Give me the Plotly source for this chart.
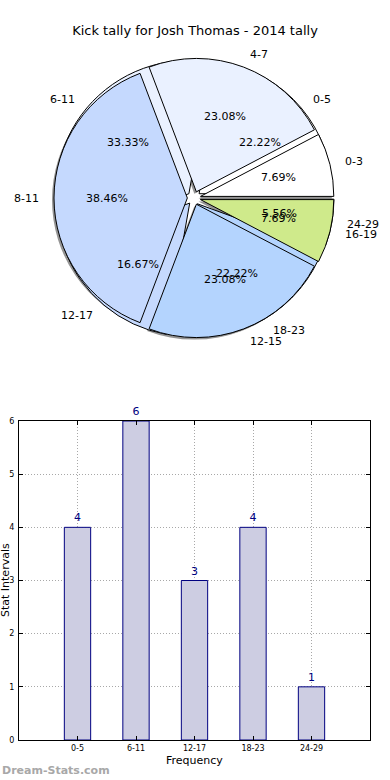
import math
import plotly.graph_objects as go

# ---------------- data ----------------
title_text = "Kick tally for Josh Thomas - 2014 tally"

pie_top_labels = ["0-3", "4-7", "8-11", "12-15", "16-19"]
pie_top_values = [1, 3, 5, 3, 1]

pie_under_labels = ["0-5", "6-11", "12-17", "18-23", "24-29"]
pie_under_values = [4, 6, 3, 4, 1]

slice_colors = ["#ffffff", "#eaf1ff", "#c5d9fe", "#b4d4fe", "#cfea8b"]

bar_categories = ["0-5", "6-11", "12-17", "18-23", "24-29"]
bar_values = [4, 6, 3, 4, 1]
y_tick_values = [0, 1, 2, 3, 4, 5, 6]

# ---------------- geometry ----------------
W, H = 390, 780
cx, cy = 194, 198          # pie centre in px (from top-left)
box_half = 140             # half size of pie box
pull = 0.05
r = box_half / (1 + pull)  # plotly pie radius

pie_dom_x = [(cx - box_half) / W, (cx + box_half) / W]
pie_dom_y = [1 - (cy + box_half) / H, 1 - (cy - box_half) / H]

fig = go.Figure()

# shadow
sdx, sdy = -2 / W, -2 / H
fig.add_trace(go.Pie(
    labels=pie_top_labels[::-1], values=pie_top_values[::-1],
    direction="clockwise", rotation=90, sort=False, pull=pull,
    marker=dict(colors=["rgba(60,60,60,0.55)"] * len(pie_top_values), line=dict(width=0)),
    textinfo="none", hoverinfo="skip", showlegend=False,
    domain=dict(x=[pie_dom_x[0] + sdx, pie_dom_x[1] + sdx], y=[pie_dom_y[0] + sdy, pie_dom_y[1] + sdy]),
))

# underneath pie
fig.add_trace(go.Pie(
    labels=pie_under_labels[::-1], values=pie_under_values[::-1],
    direction="clockwise", rotation=90, sort=False, pull=pull,
    marker=dict(colors=slice_colors[::-1], line=dict(color="#000000", width=1)),
    textinfo="none", showlegend=False,
    domain=dict(x=pie_dom_x, y=pie_dom_y),
))

# top pie
fig.add_trace(go.Pie(
    labels=pie_top_labels[::-1], values=pie_top_values[::-1],
    direction="clockwise", rotation=90, sort=False, pull=pull,
    marker=dict(colors=slice_colors[::-1], line=dict(color="#000000", width=1)),
    textinfo="none", showlegend=False,
    domain=dict(x=pie_dom_x, y=pie_dom_y),
))

# overlay axis in pixel units centred on the pie (covers the top half of the figure)
ov_dom_y = [0.5, 1.0]
ov_range_x = [-cx, W - cx]
ov_range_y = [-(H * 0.5 - cy), cy]

annotations = []
anchor_x, anchor_y = [], []
font_txt = dict(family="DejaVu Sans", size=11, color="#000000")
for labels, values in [(pie_under_labels, pie_under_values), (pie_top_labels, pie_top_values)]:
    total = sum(values)
    cum = 0
    for lab, v in zip(labels, values):
        mid = math.radians(360 * (cum + v / 2) / total)
        cum += v
        c, s = math.cos(mid), math.sin(mid)
        lx, ly = (1.1 + pull) * r * c, (1.1 + pull) * r * s
        px, py = (0.6 + pull) * r * c, (0.6 + pull) * r * s
        anchor_x += [lx, px]
        anchor_y += [ly, py]
        annotations.append(dict(
            x=lx, y=ly, xref="x2", yref="y2", text=lab, showarrow=False,
            xanchor="left" if lx > 0 else "right", yanchor="middle", font=font_txt))
        annotations.append(dict(
            x=px, y=py, xref="x2", yref="y2", text=f"{100 * v / total:.2f}%", showarrow=False,
            xanchor="center", yanchor="middle", font=font_txt))

fig.add_trace(go.Scatter(x=anchor_x, y=anchor_y, mode="none", hoverinfo="skip",
                         showlegend=False, xaxis="x2", yaxis="y2"))

# ---------------- bar chart ----------------
fig.add_trace(go.Bar(
    x=bar_categories, y=bar_values, width=0.45,
    marker=dict(color="#cdcde2", line=dict(color="#000080", width=1)),
    text=[str(v) for v in bar_values], textposition="outside",
    textfont=dict(family="DejaVu Sans", size=11, color="#000080"),
    cliponaxis=False, showlegend=False, xaxis="x", yaxis="y",
))

annotations += [
    dict(x=(19 + 370) / 2 / W, y=20 / H, xref="paper", yref="paper", text="Frequency",
         showarrow=False, xanchor="center", yanchor="middle",
         font=dict(family="DejaVu Sans", size=11, color="#000000")),
    dict(x=5 / W, y=(780 - 580) / H, xref="paper", yref="paper", text="Stat Intervals",
         showarrow=False, textangle=-90, xanchor="center", yanchor="middle",
         font=dict(family="DejaVu Sans", size=11, color="#000000")),
    dict(x=0, y=10 / H, xref="paper", yref="paper", text="<b>Dream-Stats.com</b>",
         showarrow=False, xanchor="left", yanchor="middle",
         font=dict(family="DejaVu Sans", size=11, color="#a8a8a8")),
]

axis_common = dict(
    showline=True, linecolor="#000000", linewidth=1, mirror="ticks",
    ticks="inside", ticklen=4, tickcolor="#000000",
    showgrid=True, gridcolor="#a8a8a8", griddash="1px,2px", gridwidth=1,
    zeroline=False, tickfont=dict(family="DejaVu Sans", size=8, color="#000000"),
)

fig.update_layout(
    width=W, height=H, autosize=False,
    margin=dict(l=0, r=0, t=0, b=0),
    paper_bgcolor="#ffffff", plot_bgcolor="#ffffff",
    title=dict(text=title_text, x=0.5, xanchor="center", y=1 - 30 / H, yanchor="middle",
               font=dict(family="DejaVu Sans", size=13, color="#000000")),
    xaxis=dict(domain=[19 / W, 370 / W], type="category", range=[-1, 5],
               automargin=False, **axis_common),
    yaxis=dict(domain=[40 / H, 359 / H], range=[0, 6], tickvals=y_tick_values,
               ticklabelstandoff=2, automargin=False, **axis_common),
    xaxis2=dict(domain=[0, 1], range=ov_range_x, visible=False, fixedrange=True),
    yaxis2=dict(domain=ov_dom_y, range=ov_range_y, visible=False, fixedrange=True),
    annotations=annotations,
    showlegend=False,
)

fig.write_html(
    "out.html",
    config={"displayModeBar": False, "responsive": False},
    post_script="document.body.style.margin='0px';document.body.style.overflow='hidden';",
)
